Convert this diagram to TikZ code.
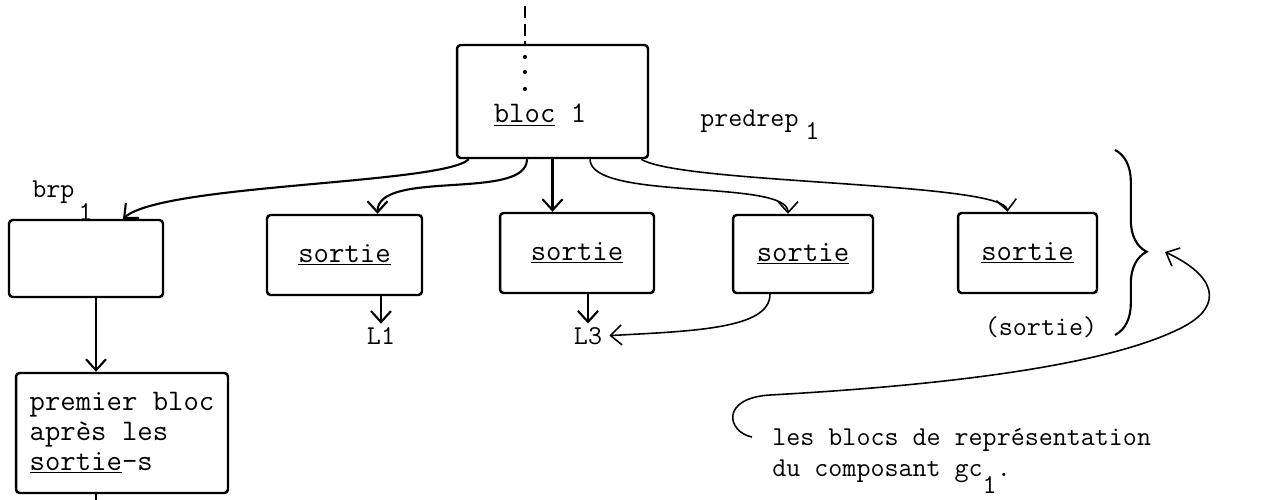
\documentclass[tikz,border=0pt]{standalone}
\usetikzlibrary{arrows.meta, positioning, calc, decorations.pathreplacing}
\newcommand\boxfont{\ttfamily\fontsize{17}{17}\selectfont}
\newcommand\lblfont{\ttfamily\fontsize{15.5}{17.5}\selectfont}
\newcommand\lowsub[2][1.2ex]{\raisebox{-#1}{#2}}
\begin{document}
\begin{tikzpicture}[
  x=0.02cm, y=-0.02cm,
  blk/.style={draw, line width=1.4pt, rounded corners=2pt, inner sep=0pt,
              font=\boxfont},
  lbl/.style={font=\lblfont, inner sep=0pt},
  arr/.style={line width=1.2pt, -{Straight Barb[length=2.2mm,width=4mm]}},
  farr/.style={line width=0.9pt, -{Straight Barb[length=2.2mm,width=4mm]}}
]
\useasboundingbox (0,0) rectangle (1278,500);

% blocs
\node[blk, minimum width=3.82cm, minimum height=2.26cm] (bloc1) at (552.5,101.5) {};
\node[lbl, font=\boxfont, anchor=base] (b1txt) at (540,123) {\underline{bloc} 1};
\node[blk, minimum width=3.08cm, minimum height=1.54cm] (brp) at (86,258.5) {};
\node[blk, minimum width=4.24cm, minimum height=2.4cm, align=left] (premier) at (122,433)
  {premier bloc\\apr\`es les\\\underline{sortie}-s};
\node[blk, minimum width=3.1cm, minimum height=1.6cm] (s1) at (344.5,255) {\underline{sortie}};
\node[blk, minimum width=3.08cm, minimum height=1.6cm] (s2) at (577,253) {\underline{sortie}};
\node[blk, minimum width=2.8cm, minimum height=1.56cm] (s3) at (803,254) {\underline{sortie}};
\node[blk, minimum width=2.78cm, minimum height=1.6cm] (s4) at (1027.5,253) {\underline{sortie}};

% labels
\node[lbl, anchor=base west] (pred) at (700,127) {predrep\hspace{0.25em}\lowsub[1.1ex]{1}};
\node[lbl, anchor=base west] (brplbl) at (32,197) {brp\hspace{0.15em}\lowsub[2ex]{1}};
\node[lbl] (L1) at (381,336) {L1};
\node[lbl] (L3) at (588,336) {L3};
\node[lbl] (s4lbl) at (1041,327) {(sortie)};
\node[lbl, align=left, anchor=north west] (note) at (772,428)
  {les blocs de repr\'esentation\\du composant gc\lowsub[1.5ex]{1}.};

% pointilles
\coordinate (top) at (525,6);
\coordinate (bot) at (96,502);
\draw[line width=1.2pt, dash pattern=on 7pt off 3pt] (top) -- (bloc1.north -| top);
\foreach \yy in {57,72,89}
  \fill (525,\yy) circle (1.2pt);
\draw[line width=1.2pt, dash pattern=on 5pt off 3pt] (premier.south -| bot) -- (bot);

% sorties du bloc 1
\draw[arr] ($(bloc1.south west)+(13,0)$) .. controls +(-25,25) and +(40,-35) .. ($(brp.north)+(37,0)$);
\draw[arr] ($(bloc1.south)+(-25.5,0)$) .. controls +(0,42) and +(0,-45) .. ($(s1.north)+(33,0)$);
\draw[arr] (bloc1.south) -- (bloc1.south |- s2.north);
\draw[farr] ($(bloc1.south)+(37.5,0)$) .. controls +(0,42) and +(0,-35) .. ($(s3.north)+(-15,0)$);
\draw[farr] ($(bloc1.south east)+(-8,0)$) .. controls +(40,25) and +(-3,-30) .. ($(s4.north)+(-20,0)$);

\draw[arr] (brp.south -| bot) -- (premier.north -| bot);
\draw[arr, shorten >=2pt] (s1.south -| L1) -- (L1.north);
\draw[arr, shorten >=2pt] (s2.south -| L3) -- (L3.north);
\draw[farr, shorten >=4pt] ($(s3.south)+(-33,0)$) .. controls +(0,35) and +(90,-5) .. (L3.east);

% accolade
\coordinate (bt) at (1165,252);
\draw[line width=1.2pt, decorate, decoration={brace, amplitude=18pt, aspect=0.55}]
  (1115,150) -- (1115,335);
\draw[farr] ($(note.north west)+(-20,9)$) .. controls +(-25,-5) and +(-50,3) .. (770,395)
  .. controls (950,385) and (1110,365) .. (1183,327)
  .. controls (1225,305) and (1215,275) .. (bt);
\end{tikzpicture}
\end{document}
